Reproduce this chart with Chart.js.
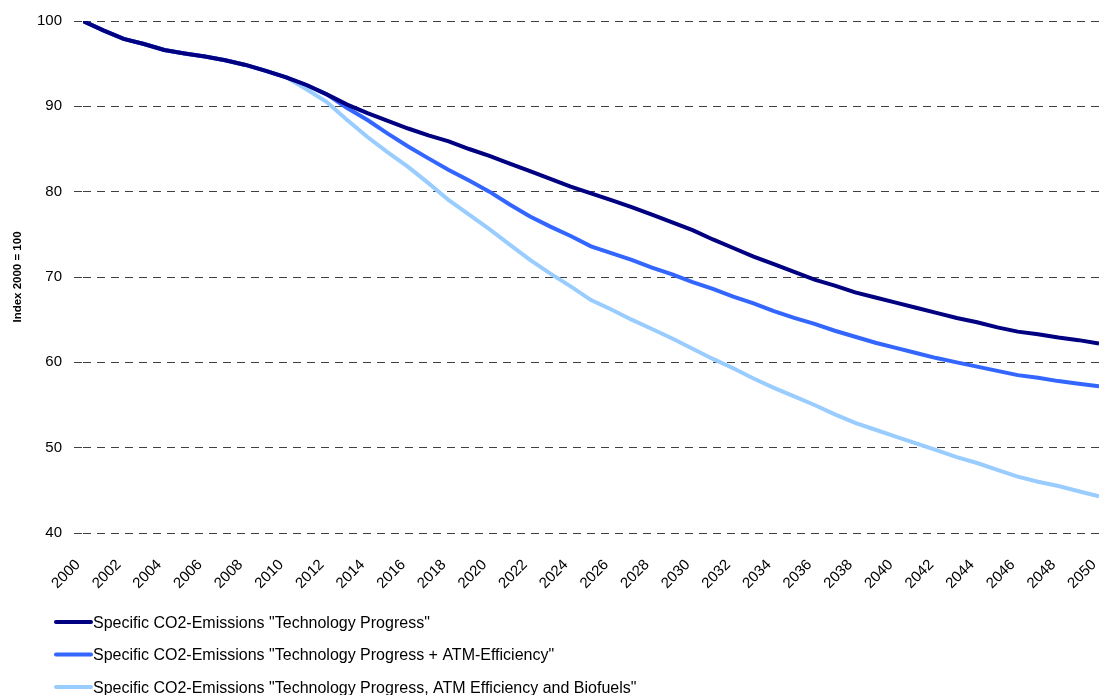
<!DOCTYPE html>
<html>
<head>
<meta charset="utf-8">
<title>Specific CO2-Emissions index</title>
<script src="https://cdn.jsdelivr.net/npm/chart.js@4.4.1/dist/chart.umd.min.js"></script>
<style>
  html, body { margin: 0; padding: 0; background: #ffffff; }
  #wrap { width: 1099px; height: 695px; }
</style>
</head>
<body>
<div id="wrap"><canvas id="chart" width="1099" height="695"></canvas></div>
<script>
// Years on the horizontal axis
const years = [];
for (let y = 2000; y <= 2050; y++) years.push(y);

// Index values (2000 = 100), one per year
const techProgress = [
  100, 98.9, 97.9, 97.3, 96.6, 96.2, 95.85, 95.4, 94.85, 94.15,
  93.4, 92.5, 91.4, 90.2, 89.2, 88.3, 87.4, 86.6, 85.9, 85.0,
  84.2, 83.3, 82.4, 81.5, 80.6, 79.8, 79.0, 78.2, 77.3, 76.4,
  75.5, 74.4, 73.4, 72.4, 71.5, 70.6, 69.7, 69.0, 68.2, 67.6,
  67.0, 66.4, 65.8, 65.2, 64.7, 64.1, 63.6, 63.3, 62.9, 62.6,
  62.2
];
const techAtm = [
  100, 98.9, 97.9, 97.3, 96.6, 96.2, 95.85, 95.4, 94.85, 94.15,
  93.4, 92.5, 91.4, 89.8, 88.4, 86.8, 85.3, 83.9, 82.55, 81.3,
  80.0, 78.5, 77.1, 75.9, 74.8, 73.6, 72.8, 72.0, 71.1, 70.3,
  69.4, 68.6, 67.7, 66.9, 66.0, 65.2, 64.5, 63.7, 63.0, 62.3,
  61.7, 61.1, 60.5, 60.0, 59.5, 59.0, 58.5, 58.2, 57.8, 57.5,
  57.2
];
const techAtmBio = [
  100, 98.9, 97.9, 97.3, 96.6, 96.2, 95.85, 95.4, 94.85, 94.15,
  93.4, 92.0, 90.5, 88.4, 86.4, 84.6, 82.9, 81.0, 79.0, 77.3,
  75.6, 73.8, 72.0, 70.4, 68.9, 67.3, 66.2, 65.0, 63.9, 62.8,
  61.6, 60.4, 59.3, 58.1, 57.0, 56.0, 55.0, 53.9, 52.9, 52.1,
  51.3, 50.5, 49.7, 48.9, 48.2, 47.4, 46.6, 46.0, 45.5, 44.9,
  44.3
];

const seriesLabels = [
  'Specific CO2-Emissions "Technology Progress"',
  'Specific CO2-Emissions "Technology Progress + ATM-Efficiency"',
  'Specific CO2-Emissions "Technology Progress, ATM Efficiency and Biofuels"'
];
const seriesColors = ['#000080', '#3366FF', '#99CCFF'];

const FONT = "'Liberation Sans', Arial, Helvetica, sans-serif";

// Legend drawn as a vertical list under the axis
const stackedLegend = {
  id: 'stackedLegend',
  afterDraw(chart) {
    const ctx = chart.ctx;
    const rows = [622, 654.5, 687];
    ctx.save();
    ctx.font = '16px ' + FONT;
    ctx.textBaseline = 'middle';
    ctx.textAlign = 'left';
    chart.data.datasets.forEach((ds, i) => {
      const y = rows[i];
      ctx.strokeStyle = ds.borderColor;
      ctx.lineWidth = 4;
      ctx.lineCap = 'round';
      ctx.beginPath();
      ctx.moveTo(56, y);
      ctx.lineTo(91, y);
      ctx.stroke();
      ctx.fillStyle = '#000000';
      ctx.fillText(ds.label, 93, y + 1.5);
    });
    ctx.restore();
  }
};

const datasets = [techProgress, techAtm, techAtmBio].map((vals, i) => ({
  label: seriesLabels[i],
  data: vals.map((v, k) => ({ x: years[k], y: v })),
  borderColor: seriesColors[i],
  backgroundColor: seriesColors[i],
  borderWidth: 4,
  pointRadius: 0,
  tension: 0,
  fill: false,
  order: i + 1   // darkest series drawn on top
}));

new Chart(document.getElementById('chart'), {
  type: 'line',
  data: { datasets },
  plugins: [stackedLegend],
  options: {
    responsive: false,
    animation: false,
    events: [],
    layout: { padding: { top: 21, right: 0, bottom: 0, left: 0 } },
    plugins: {
      legend: { display: false },
      tooltip: { enabled: false }
    },
    scales: {
      x: {
        type: 'linear',
        min: 2000,
        max: 2050,
        border: { display: false },
        grid: { display: false, drawTicks: false },
        ticks: {
          stepSize: 2,
          autoSkip: false,
          maxRotation: 45,
          minRotation: 45,
          padding: 23,
          labelOffset: -5,
          color: '#000000',
          font: { family: FONT, size: 15 },
          callback: (v) => String(v)
        },
        afterFit: (scale) => {
          scale.paddingRight = 0;
          scale.height = 162;
        }
      },
      y: {
        min: 40,
        max: 100,
        border: { display: false, dash: [8, 6] },
        grid: {
          color: '#404040',
          lineWidth: 1,
          drawTicks: true,
          tickLength: 9,
          tickColor: '#404040',
          tickBorderDash: [8, 6]
        },
        ticks: {
          stepSize: 10,
          padding: 12,
          color: '#000000',
          font: { family: FONT, size: 15 }
        },
        title: {
          display: true,
          text: 'Index 2000 = 100',
          color: '#000000',
          font: { family: FONT, size: 11.5, weight: 'bold' },
          padding: { top: 11, bottom: 0 }
        },
        afterFit: (scale) => {
          scale.width = 83;
        }
      }
    }
  }
});
</script>
</body>
</html>
